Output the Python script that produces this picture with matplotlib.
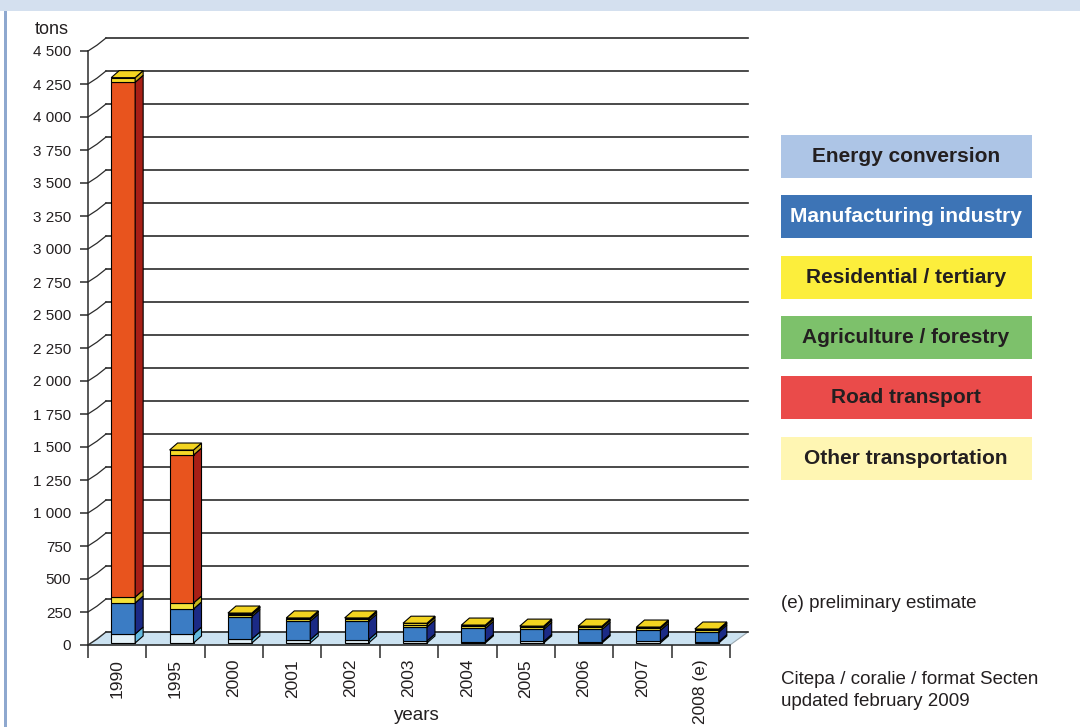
import matplotlib.pyplot as plt
import numpy as np
from matplotlib.patches import Polygon, Rectangle
from matplotlib.transforms import offset_copy

plt.rcParams['font.family'] = ['Liberation Sans', 'DejaVu Sans']

# data (tons)
years = ['1990', '1995', '2000', '2001', '2002', '2003', '2004', '2005', '2006', '2007', '2008 (e)']
energy = [68, 68, 30, 25, 25, 15, 10, 12, 10, 12, 10]
manufacturing = [235, 190, 170, 140, 140, 107, 100, 91, 93, 84, 73]
residential = [45, 45, 15, 15, 15, 18, 16, 15, 15, 15, 13]
agriculture = [0, 0, 0, 0, 0, 0, 0, 0, 0, 0, 0]
road = [3900, 1121, 2, 0, 0, 0, 0, 0, 0, 0, 0]
other = [35, 38, 10, 10, 10, 10, 10, 10, 10, 10, 10]

series = [energy, manufacturing, residential, agriculture, road, other]
front_cols = ['#e3f1f8', '#3b7cc4', '#f4e33a', '#7dc06a', '#e8541e', '#f5d928']
side_cols = ['#62b9df', '#1b2a86', '#c8b61c', '#4f8f3e', '#a81f16', '#cfb21a']
top_cols = ['#b8e0f0', '#2e5fae', '#f0dc30', '#8fd07a', '#f07040', '#f3d420']

legend_names = ['Energy conversion', 'Manufacturing industry', 'Residential / tertiary',
                'Agriculture / forestry', 'Road transport', 'Other transportation']
legend_cols = ['#adc5e6', '#3d74b6', '#fcee3c', '#7dc16b', '#ea4b4a', '#fff6b3']
legend_txt = ['#231f20', 'white', '#231f20', '#231f20', '#231f20', '#231f20']

W, H = 1080, 727
fig = plt.figure(figsize=(W / 100, H / 100), dpi=100)
fig.patch.set_facecolor('white')


def px(x0, y0, x1, y1):
    return [x0 / W, 1 - y1 / H, (x1 - x0) / W, (y1 - y0) / H]


# frame decorations
fig.add_artist(Rectangle((0, 1 - 11 / H), 1, 11 / H, transform=fig.transFigure,
                         color='#d4e0ef', lw=0))
fig.add_artist(Rectangle((4 / W, 0), 2.5 / W, 1 - 11 / H, transform=fig.transFigure,
                         color='#8ea8cf', lw=0))

ax = fig.add_axes(px(88, 51, 730, 645))
ax.set_xlim(-0.5, 10.5)
ax.set_ylim(0, 4500)
ax.set_facecolor('none')

sx = 11 / 642.0   # data x per pixel
sy = 4500 / 594.0  # tons per pixel
wdx, wdy = 18 * sx, 13 * sy   # back wall depth
bdx, bdy = 8 * sx, 7 * sy     # bar depth

grid_c = '#2b2b2b'
# floor
ax.add_patch(Polygon([(-0.5, 0), (10.5, 0), (10.5 + wdx, wdy), (-0.5 + wdx, wdy)],
                     closed=True, facecolor='#cbe2f1', edgecolor='#9aa8b0', lw=0.8,
                     clip_on=False, zorder=1))
# back wall grid
yt = np.arange(0, 4501, 250)
for v in yt:
    ax.plot([-0.5 + wdx, 10.5 + wdx], [v + wdy, v + wdy], color=grid_c, lw=1.2,
            clip_on=False, zorder=2)
    ax.plot([-0.5, -0.5 + wdx * 0.5, -0.5 + wdx],
            [v, v + wdy * 0.45, v + wdy], color=grid_c, lw=0.9,
            clip_on=False, zorder=2)

# stacked pseudo-3d bars
x = np.arange(len(years))
bw = 0.41
tr = offset_copy(ax.transData, fig=fig, x=6, y=2, units='dots')
cum = np.zeros(len(years))
tops = np.array([sum(s[i] for s in series) for i in range(len(years))])
for k, vals in enumerate(series):
    vals = np.array(vals, dtype=float)
    bars = ax.bar(x, vals, width=bw, bottom=cum, color=front_cols[k],
                  edgecolor='black', linewidth=0.8, zorder=4)
    for i, b in enumerate(bars):
        b.set_transform(tr)
        if vals[i] <= 0:
            b.set_visible(False)
            continue
        xr = x[i] + bw / 2
        y0, y1 = cum[i], cum[i] + vals[i]
        ax.add_patch(Polygon([(xr, y0), (xr + bdx, y0 + bdy), (xr + bdx, y1 + bdy), (xr, y1)],
                             closed=True, facecolor=side_cols[k], edgecolor='black',
                             lw=0.8, transform=tr, zorder=4))
        if abs(y1 - tops[i]) < 1e-6:
            xl = x[i] - bw / 2
            ax.add_patch(Polygon([(xl, y1), (xr, y1), (xr + bdx, y1 + bdy), (xl + bdx, y1 + bdy)],
                                 closed=True, facecolor=top_cols[k], edgecolor='black',
                                 lw=0.8, transform=tr, zorder=4))
    cum = cum + vals

# axes
for s in ['top', 'right']:
    ax.spines[s].set_visible(False)
ax.spines['left'].set_color(grid_c)
ax.spines['bottom'].set_color(grid_c)
ax.spines['left'].set_linewidth(1.1)
ax.spines['bottom'].set_linewidth(1.1)
ax.spines['left'].set_zorder(5)
ax.spines['bottom'].set_zorder(5)
ax.set_yticks(yt)
ax.set_yticklabels([f'{v:,}'.replace(',', ' ') for v in yt])
ax.tick_params(axis='y', length=6, width=1.1, color=grid_c, labelsize=11,
               labelcolor='#231f20', pad=6)
ax.set_xticks(x)
ax.set_xticklabels(years, rotation=90)
ax.set_xticks(np.arange(-0.5, 11, 1), minor=True)
ax.tick_params(axis='x', which='major', length=0, labelsize=12.5,
               labelcolor='#231f20', pad=10)
ax.tick_params(axis='x', which='minor', length=9, width=1.1, color=grid_c)

fig.text(35 / W, 1 - 30 / H, 'tons', fontsize=13, color='#231f20', va='center')
fig.text(417 / W, 1 - 716 / H, 'years', fontsize=13.5, color='#231f20',
         ha='center', va='center')

# legend boxes
for j, name in enumerate(legend_names):
    y0 = 135 + j * 60.3
    fig.add_artist(Rectangle((781 / W, 1 - (y0 + 43) / H), 251 / W, 43 / H,
                             transform=fig.transFigure, color=legend_cols[j], lw=0))
    fig.text(906 / W, 1 - (y0 + 21.5) / H, name, fontsize=15, fontweight='bold',
             color=legend_txt[j], ha='center', va='center')

fig.text(781 / W, 1 - 604 / H, '(e) preliminary estimate', fontsize=13.5,
         color='#231f20', va='center')
fig.text(781 / W, 1 - 680 / H, 'Citepa / coralie / format Secten', fontsize=13.5,
         color='#231f20', va='center')
fig.text(781 / W, 1 - 702 / H, 'updated february 2009', fontsize=13.5,
         color='#231f20', va='center')

fig.savefig('out.png', dpi=100)
